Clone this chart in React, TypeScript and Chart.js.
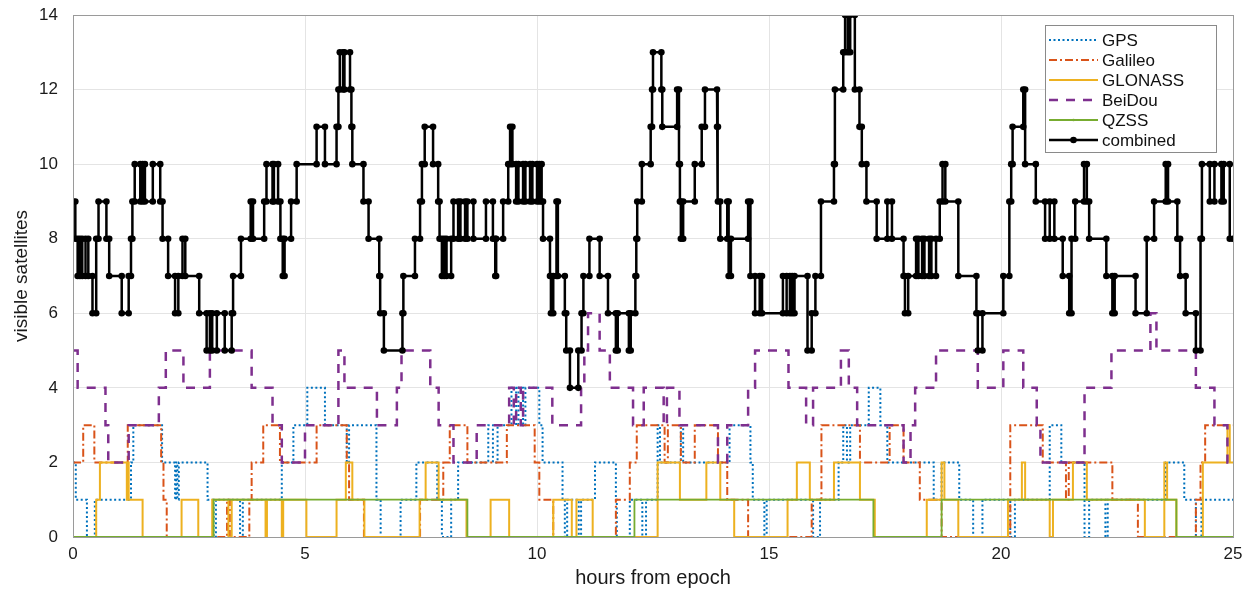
import React, { useEffect, useRef } from 'react';
import { Chart, registerables } from 'chart.js';

Chart.register(...registerables);

type Step = [number, number];

const X_MIN = 0;
const X_MAX = 25;
const X_STEP = 5;
const Y_MIN = 0;
const Y_MAX = 14;
const Y_STEP = 2;
const X_TITLE = 'hours from epoch';
const Y_TITLE = 'visible satellites';
const SERIES_NAMES = ['GPS', 'Galileo', 'GLONASS', 'BeiDou', 'QZSS', 'combined'];

// [hour at which the count changes, new count]
const gpsSteps: Step[] = [
  [0, 2], [0.06, 1], [0.3, 0], [0.47, 1], [1.25, 2], [1.3, 3], [1.92, 2], [2.2, 1], [2.22, 2], [2.25, 1],
  [2.28, 2], [2.9, 1], [3.03, 0], [3.08, 1], [3.6, 0], [3.66, 1], [4.5, 2], [4.75, 3], [5.05, 4], [5.43, 3],
  [5.9, 2], [5.95, 3], [6.54, 1], [6.63, 0], [7.06, 1], [7.4, 2], [7.85, 1], [7.95, 0], [8.15, 1], [8.3, 2],
  [8.95, 3], [9.05, 2], [9.15, 3], [9.45, 4], [9.55, 3], [9.6, 4], [9.7, 3], [9.75, 4], [10.05, 3], [10.12, 2],
  [10.55, 1], [10.6, 0], [10.65, 1], [10.9, 0], [10.95, 1], [11.25, 2], [11.7, 1], [11.72, 0], [12.0, 1], [12.27, 0],
  [12.35, 1], [12.6, 3], [12.65, 2], [13.1, 3], [13.15, 2], [14.15, 3], [14.6, 2], [14.65, 1], [14.9, 0], [14.95, 1],
  [15.95, 0], [16.1, 1], [16.5, 2], [16.6, 3], [16.68, 2], [16.75, 3], [17.15, 4], [17.4, 3], [17.55, 2], [18.55, 1],
  [18.72, 2], [19.1, 1], [19.4, 0], [19.6, 1], [20.2, 0], [20.3, 1], [21.05, 3], [21.3, 2], [21.8, 0], [21.9, 1],
  [22.25, 0], [22.3, 1], [23.55, 2], [23.95, 1], [24.2, 0], [24.32, 1],
];

const galileoSteps: Step[] = [
  [0, 2], [0.22, 3], [0.46, 2], [1.18, 3], [1.9, 2], [1.95, 1], [2.02, 0], [3.32, 1], [3.38, 0], [3.8, 1],
  [3.85, 2], [4.1, 3], [4.46, 2], [5.25, 3], [5.9, 2], [5.95, 1], [6.27, 0], [7.48, 1], [7.98, 2], [8.12, 3],
  [8.5, 2], [9.35, 3], [9.95, 2], [10.05, 1], [10.35, 0], [11.7, 1], [12.0, 2], [12.15, 3], [12.75, 2], [12.82, 3],
  [13.1, 2], [13.4, 3], [13.9, 2], [14.1, 1], [14.55, 0], [15.92, 1], [16.13, 3], [16.96, 2], [17.6, 3], [17.9, 2],
  [18.25, 1], [18.72, 0], [20.2, 3], [20.9, 2], [21.4, 1], [21.46, 2], [22.4, 1], [22.95, 0], [24.2, 1], [24.3, 2],
  [24.4, 3],
];

const glonassSteps: Step[] = [
  [0, 0], [0.5, 1], [0.58, 2], [1.16, 1], [1.18, 2], [1.2, 1], [1.5, 0], [2.34, 1], [2.7, 0], [3.0, 1],
  [3.35, 0], [3.42, 1], [4.15, 0], [4.18, 1], [4.5, 0], [4.53, 1], [5.03, 0], [5.68, 1], [5.88, 2], [6.02, 1],
  [6.28, 0], [7.47, 1], [7.6, 2], [7.88, 1], [8.48, 0], [9.0, 1], [9.4, 0], [10.35, 1], [10.75, 0], [10.85, 1],
  [11.2, 0], [12.6, 2], [13.08, 1], [13.65, 2], [13.95, 1], [14.25, 0], [15.4, 1], [15.6, 2], [15.88, 1], [16.4, 2],
  [16.96, 1], [17.28, 0], [18.4, 1], [18.72, 2], [18.78, 1], [19.08, 0], [20.15, 1], [20.45, 2], [20.52, 1], [21.05, 0],
  [21.12, 1], [21.55, 2], [21.85, 1], [23.1, 0], [23.52, 2], [23.58, 1], [23.78, 0], [24.35, 2], [24.88, 3], [24.93, 2],
];

const beidouSteps: Step[] = [
  [0, 5], [0.1, 4], [0.7, 3], [0.76, 2], [1.2, 3], [1.85, 4], [2.0, 5], [2.38, 4], [2.95, 5], [3.85, 4],
  [4.3, 3], [4.5, 2], [5.0, 3], [5.72, 5], [5.85, 4], [6.55, 3], [6.98, 4], [7.08, 5], [7.7, 4], [7.88, 3],
  [8.2, 2], [8.7, 3], [9.4, 4], [9.5, 3], [9.55, 4], [9.65, 3], [9.7, 4], [10.33, 3], [10.95, 4], [11.02, 5],
  [11.1, 6], [11.35, 5], [11.57, 4], [12.07, 3], [12.3, 4], [12.73, 3], [12.8, 4], [13.07, 3], [13.9, 2], [14.1, 3],
  [14.55, 4], [14.7, 5], [15.42, 4], [15.8, 3], [15.95, 4], [16.55, 5], [16.72, 4], [16.9, 3], [17.9, 2], [18.05, 3],
  [18.15, 4], [18.6, 5], [19.5, 4], [20.05, 5], [20.48, 4], [20.77, 3], [20.85, 2], [21.8, 4], [22.38, 5], [23.22, 6],
  [23.35, 5], [24.2, 4], [24.6, 3], [24.88, 2],
];

const qzssSteps: Step[] = [
  [0, 0], [3.03, 1], [8.5, 0], [12.1, 1], [17.25, 0], [18.72, 1], [23.78, 0],
];

const combinedSteps: Step[] = [
  [0, 9], [0.05, 8], [0.1, 7], [0.15, 8], [0.2, 7], [0.27, 8], [0.33, 7], [0.42, 6], [0.5, 8], [0.55, 9],
  [0.72, 8], [0.78, 7], [1.05, 6], [1.2, 7], [1.25, 8], [1.28, 9], [1.33, 10], [1.45, 9], [1.5, 10], [1.55, 9],
  [1.72, 10], [1.88, 9], [1.93, 8], [2.05, 7], [2.2, 6], [2.27, 7], [2.36, 8], [2.42, 7], [2.72, 6], [2.88, 5],
  [2.95, 6], [3.0, 5], [3.1, 6], [3.27, 5], [3.42, 6], [3.45, 7], [3.62, 8], [3.83, 9], [3.88, 8], [4.12, 9],
  [4.17, 10], [4.3, 9], [4.33, 10], [4.42, 9], [4.47, 8], [4.52, 7], [4.56, 8], [4.7, 9], [4.82, 10], [5.25, 11],
  [5.43, 10], [5.68, 11], [5.72, 12], [5.75, 13], [5.82, 12], [5.85, 13], [5.97, 12], [6.0, 11], [6.02, 10], [6.26, 9],
  [6.37, 8], [6.6, 7], [6.62, 6], [6.7, 5], [7.1, 6], [7.12, 7], [7.37, 8], [7.48, 9], [7.52, 10], [7.58, 11],
  [7.76, 10], [7.87, 9], [7.9, 8], [7.95, 7], [8.0, 8], [8.05, 7], [8.15, 8], [8.2, 9], [8.3, 8], [8.35, 9],
  [8.45, 8], [8.5, 9], [8.63, 8], [8.9, 9], [9.05, 8], [9.1, 7], [9.12, 8], [9.27, 9], [9.38, 10], [9.42, 11],
  [9.47, 10], [9.55, 9], [9.6, 10], [9.7, 9], [9.75, 10], [9.85, 9], [9.9, 10], [10.0, 9], [10.05, 10], [10.1, 9],
  [10.13, 8], [10.28, 7], [10.3, 6], [10.35, 7], [10.42, 9], [10.45, 7], [10.6, 6], [10.63, 5], [10.71, 4], [10.89, 5],
  [10.96, 6], [11.0, 7], [11.13, 8], [11.35, 7], [11.53, 6], [11.7, 5], [11.74, 6], [11.98, 5], [12.02, 6], [12.12, 7],
  [12.14, 8], [12.16, 9], [12.26, 10], [12.45, 11], [12.48, 12], [12.5, 13], [12.68, 12], [12.7, 11], [13.02, 12], [13.06, 10],
  [13.08, 9], [13.1, 8], [13.15, 9], [13.4, 10], [13.55, 11], [13.62, 12], [13.88, 11], [13.9, 9], [13.95, 8], [14.1, 9],
  [14.13, 7], [14.18, 8], [14.55, 9], [14.6, 7], [14.7, 6], [14.8, 7], [14.85, 6], [15.3, 7], [15.38, 6], [15.45, 7],
  [15.5, 6], [15.55, 7], [15.83, 5], [15.92, 6], [16.0, 7], [16.12, 9], [16.4, 10], [16.42, 12], [16.6, 13], [16.64, 14],
  [16.7, 13], [16.75, 14], [16.85, 12], [16.95, 11], [17.0, 10], [17.1, 9], [17.32, 8], [17.55, 9], [17.65, 8], [17.9, 7],
  [17.93, 6], [18.0, 7], [18.17, 8], [18.22, 7], [18.3, 8], [18.35, 7], [18.45, 8], [18.5, 7], [18.6, 8], [18.68, 9],
  [18.74, 10], [18.8, 9], [19.08, 7], [19.47, 6], [19.5, 5], [19.6, 6], [20.05, 7], [20.18, 9], [20.22, 10], [20.25, 11],
  [20.48, 12], [20.52, 10], [20.75, 9], [20.95, 8], [21.05, 9], [21.15, 8], [21.33, 7], [21.47, 6], [21.52, 8], [21.6, 9],
  [21.79, 10], [21.85, 9], [21.9, 8], [22.27, 7], [22.4, 6], [22.45, 7], [22.9, 6], [23.14, 8], [23.3, 9], [23.55, 10],
  [23.6, 9], [23.8, 8], [23.86, 7], [23.98, 6], [24.2, 5], [24.3, 8], [24.33, 10], [24.5, 9], [24.6, 10], [24.75, 9],
  [24.8, 10], [24.93, 8],
];

function toCorners(steps: Step[], end: number) {
  const pts: { x: number; y: number }[] = [];
  steps.forEach(([h, n], i) => {
    if (i > 0) pts.push({ x: h, y: steps[i - 1][1] });
    pts.push({ x: h, y: n });
  });
  pts.push({ x: end, y: steps[steps.length - 1][1] });
  return pts;
}

const FONT = "'Liberation Sans', Arial, Helvetica, sans-serif";

const boxPlugin = {
  id: 'matlabBox',
  afterDatasetsDraw(chart: any) {
    const { ctx, chartArea: a } = chart;
    ctx.save();
    ctx.strokeStyle = '#9a9a9a';
    ctx.lineWidth = 1;
    ctx.setLineDash([]);
    ctx.strokeRect(Math.round(a.left) + 0.5, Math.round(a.top) + 0.5, Math.round(a.right - a.left), Math.round(a.bottom - a.top));
    ctx.restore();
  },
};

const legendPlugin = {
  id: 'boxLegend',
  afterDraw(chart: any) {
    const { ctx, chartArea: a } = chart;
    const w = 171;
    const h = 127;
    const x0 = Math.round(a.right - 17 - w);
    const y0 = Math.round(a.top + 10);
    ctx.save();
    ctx.fillStyle = '#ffffff';
    ctx.fillRect(x0, y0, w, h);
    ctx.strokeStyle = '#8a8a8a';
    ctx.lineWidth = 1;
    ctx.setLineDash([]);
    ctx.strokeRect(x0 + 0.5, y0 + 0.5, w, h);
    chart.data.datasets.forEach((ds: any, i: number) => {
      const y = y0 + 15 + i * 20;
      const lx1 = x0 + 4;
      const lx2 = x0 + 53;
      ctx.save();
      ctx.strokeStyle = ds.borderColor;
      ctx.lineWidth = ds.borderWidth;
      ctx.setLineDash(ds.borderDash || []);
      ctx.beginPath();
      ctx.moveTo(lx1, y);
      ctx.lineTo(lx2, y);
      ctx.stroke();
      ctx.setLineDash([]);
      if (ds.legendMarker > 0) {
        ctx.fillStyle = ds.borderColor;
        ctx.beginPath();
        ctx.arc((lx1 + lx2) / 2, y, ds.legendMarker, 0, Math.PI * 2);
        ctx.fill();
      }
      ctx.restore();
      ctx.fillStyle = '#111111';
      ctx.font = `17px ${FONT}`;
      ctx.textBaseline = 'middle';
      ctx.textAlign = 'left';
      ctx.fillText(ds.label, x0 + 57, y + 1);
    });
    ctx.restore();
  },
};

export default function App() {
  const canvasRef = useRef<HTMLCanvasElement | null>(null);

  useEffect(() => {
    const canvas = canvasRef.current;
    if (!canvas) return;
    const allSteps = [gpsSteps, galileoSteps, glonassSteps, beidouSteps, qzssSteps, combinedSteps];
    const colors = ['#0072BD', '#D95319', '#EDB120', '#7E2F8E', '#77AC30', '#000000'];
    const widths = [2, 2, 2, 2.5, 1.8, 2.5];
    const dashes = [[2, 2.5], [8, 3, 2, 3], [], [9, 8], [], []];
    const orders = [5, 4, 3, 2, 1, 0];
    const markers = [0, 0, 0, 0, 1.3, 3.3];

    const datasets = SERIES_NAMES.map((name, i) => ({
      label: name,
      data: toCorners(allSteps[i], X_MAX),
      borderColor: colors[i],
      backgroundColor: colors[i],
      borderWidth: widths[i],
      borderDash: dashes[i],
      pointRadius: name === 'combined' ? 3.3 : 0,
      pointHoverRadius: 0,
      pointBackgroundColor: colors[i],
      pointBorderColor: colors[i],
      pointBorderWidth: 0,
      fill: false,
      tension: 0,
      order: orders[i],
      legendMarker: markers[i],
    }));

    const chart = new Chart(canvas, {
      type: 'line',
      data: { datasets } as any,
      options: {
        responsive: false,
        animation: false,
        devicePixelRatio: 1,
        layout: { padding: { left: 0, top: 15, right: 21, bottom: 0 } },
        plugins: {
          legend: { display: false },
          tooltip: { enabled: false },
        },
        events: [],
        scales: {
          x: {
            type: 'linear',
            min: X_MIN,
            max: X_MAX,
            ticks: {
              stepSize: X_STEP,
              padding: 7,
              color: '#1a1a1a',
              font: { family: FONT, size: 17 },
              maxRotation: 0,
            },
            grid: { color: '#e4e4e4', lineWidth: 1, drawTicks: false },
            border: { display: false },
            title: {
              display: true,
              text: X_TITLE,
              color: '#1a1a1a',
              font: { family: FONT, size: 20 },
              padding: { top: 0, bottom: 1 },
            },
            afterFit: (s: any) => {
              s.height = 54;
              s.paddingLeft = 0;
              s.paddingRight = 0;
            },
          },
          y: {
            type: 'linear',
            min: Y_MIN,
            max: Y_MAX,
            ticks: {
              stepSize: Y_STEP,
              padding: 15,
              color: '#1a1a1a',
              font: { family: FONT, size: 17 },
            },
            grid: { color: '#e4e4e4', lineWidth: 1, drawTicks: false },
            border: { display: false },
            title: {
              display: true,
              text: Y_TITLE,
              color: '#1a1a1a',
              font: { family: FONT, size: 19 },
              padding: { top: 10, bottom: 0 },
            },
            afterFit: (s: any) => {
              s.width = 73;
              s.paddingTop = 0;
              s.paddingBottom = 0;
            },
          },
        },
      } as any,
      plugins: [boxPlugin, legendPlugin],
    });
    return () => chart.destroy();
  }, []);

  return (
    <div style={{ position: 'fixed', left: 0, top: 0, width: 1254, height: 591, background: '#ffffff' }}>
      <canvas ref={canvasRef} width={1254} height={591} style={{ width: 1254, height: 591, display: 'block' }} />
    </div>
  );
}
